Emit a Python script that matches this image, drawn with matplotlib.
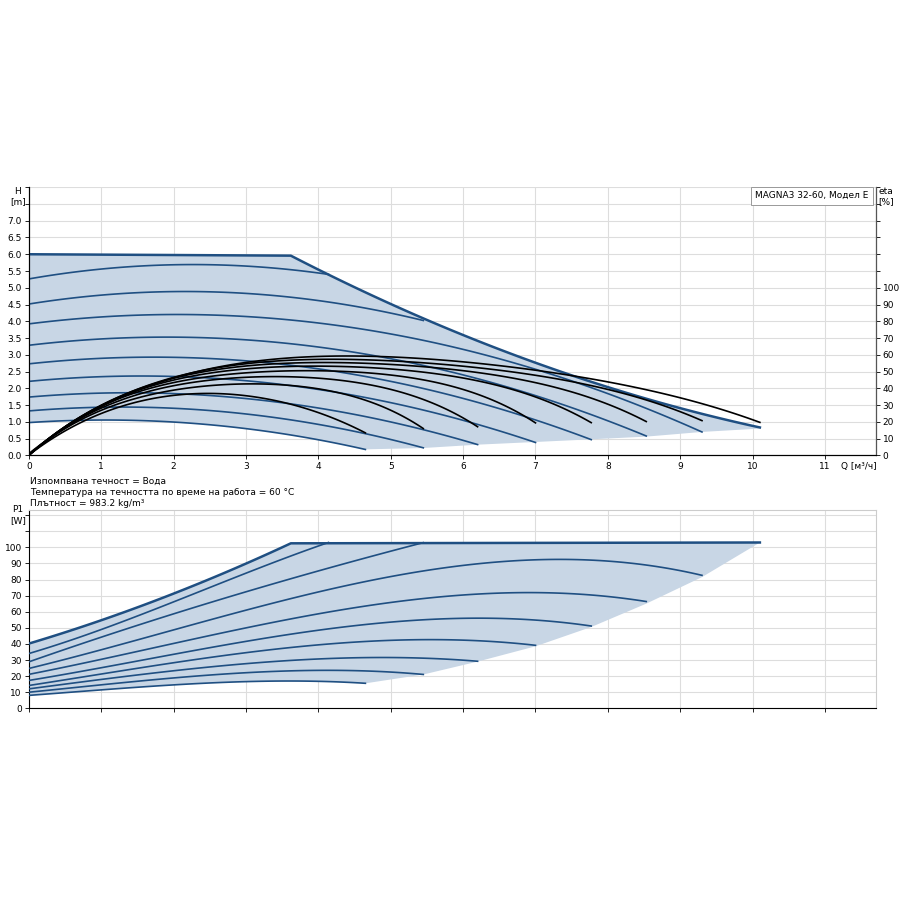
import matplotlib
matplotlib.use("Agg")
import matplotlib.pyplot as plt
import numpy as np

# head curves H [m] vs Q [m3/h], one per speed step (lowest first)
h_curves = [
    ([0, 1, 2, 3, 4, 4.65], [0.98, 1.05, 1.0, 0.8, 0.46, 0.18]),
    ([0, 1, 2, 3, 4, 5, 5.45], [1.33, 1.43, 1.41, 1.23, 0.93, 0.48, 0.22]),
    ([0, 1, 2, 3, 4, 5, 6.2], [1.74, 1.86, 1.84, 1.69, 1.42, 1.0, 0.32]),
    ([0, 1, 2, 3, 4, 5, 6, 7], [2.2, 2.34, 2.39, 2.22, 1.96, 1.57, 1.03, 0.4]),
    ([0, 1, 2, 3, 4, 5, 6, 7, 7.77], [2.73, 2.9, 2.92, 2.82, 2.58, 2.22, 1.7, 1.04, 0.48]),
    ([0, 2, 4, 5, 6, 8, 8.53], [3.29, 3.52, 3.23, 2.88, 2.41, 1.05, 0.56]),
    ([0, 2, 4, 5, 6, 8, 9.3], [3.92, 4.2, 4.0, 3.55, 3.19, 1.84, 0.7]),
    ([0, 1, 2, 3, 4, 5, 5.45], [4.5, 4.8, 4.9, 4.82, 4.6, 4.25, 4.03]),
    ([0, 1, 2, 3, 3.5, 4.14], [5.25, 5.58, 5.7, 5.62, 5.55, 5.42]),
]
hmax_q = [0, 3.62, 4, 5, 6, 7, 8, 9, 10.1]
hmax_h = [6.0, 6.0, 5.55, 4.45, 3.55, 2.75, 2.15, 1.4, 0.8]

# efficiency curves eta [%]
eta_curves = [
    ([0, 0.5, 1, 1.5, 2, 2.5, 3, 3.5, 4, 4.65], [0, 15, 25, 31.6, 35.6, 37, 36, 32, 25, 13.6]),
    ([0, 0.5, 1, 2, 2.85, 3.5, 4, 4.5, 5, 5.45], [0, 16, 27, 38.5, 43, 42, 39.5, 35, 27, 16]),
    ([0, 0.5, 1, 2, 3.2, 4, 4.5, 5, 5.5, 6.2], [0, 16.5, 28.5, 41, 47.5, 46, 43.5, 39, 33, 17]),
    ([0, 0.5, 1, 2, 3.5, 4.5, 5.5, 6, 6.5, 7.0], [0, 17, 29.5, 43, 51, 49.5, 44, 39.5, 32, 19]),
    ([0, 0.5, 1, 2, 3.8, 5, 6, 7, 7.77], [0, 17, 30, 44.5, 53.5, 51.5, 46, 35, 19.5]),
    ([0, 0.5, 1, 2, 4, 5, 6, 7, 8, 8.53], [0, 17, 30.5, 45.5, 55.5, 54.5, 50.5, 43, 31, 20]),
    ([0, 0.5, 1, 2, 4.2, 5.5, 6.5, 7.5, 8.5, 9.3], [0, 17, 30.5, 46, 57, 55.5, 51, 44, 33, 21]),
    ([0, 0.5, 1, 2, 3, 4.45, 5, 6, 7, 8, 9, 10.1], [0, 17, 30.5, 46.5, 54.5, 58.5, 58, 56, 53.5, 44.5, 31, 21]),
]

# power curves P1 [W]
p_curves = [
    ([0, 1, 2, 3, 3.8, 4.65], [8, 11.5, 14.5, 16.5, 17, 15.5]),
    ([0, 1, 2, 3, 4, 4.5, 5.45], [10, 14.5, 19, 22, 23.5, 23.5, 21]),
    ([0, 1, 2, 3, 4, 5, 5.5, 6.2], [12, 18, 23.5, 27.5, 30.5, 31.5, 31.5, 29]),
    ([0, 1, 2, 3, 4, 5, 5.8, 6.5, 7.0], [14, 21.5, 28.5, 34.5, 39, 42, 42.8, 42, 38.5]),
    ([0, 1, 2, 3, 4, 5, 6, 6.8, 7.77], [17, 25.5, 34, 41.5, 48, 53, 56, 56.5, 50.5]),
    ([0, 1, 2, 3, 4, 5, 6, 7, 7.8, 8.53], [20.5, 31, 41, 50, 58, 65, 70, 72.5, 72, 65]),
    ([0, 1, 2, 3, 4, 5, 6, 7, 7.8, 8.6, 9.3], [24.5, 36.5, 49, 61, 72.5, 81.5, 88, 92, 92.5, 90, 81.5]),
    ([0, 1, 2, 3, 4.14], [34, 49, 66, 84, 103]),
    ([0, 1, 2, 3, 4, 5.45], [29, 43.7, 59, 72.6, 85, 103]),
]
pmax_q = [0, 1, 2, 3, 3.62, 10.1]
pmax_p = [40, 55, 71.5, 89, 103, 103]

BLUE = "#1f4f82"
FILL = "#c8d6e5"
GRID = "#dddddd"
FS = 6.5


def smooth(q, v, deg, n=120):
    c = np.polyfit(q, v, deg)
    xs = np.linspace(q[0], q[-1], n)
    return xs, np.polyval(c, xs)


def hmax_line():
    xs2, ys2 = smooth(hmax_q[1:], hmax_h[1:], 2)
    return np.r_[0, xs2], np.r_[6.0, ys2]


def pmax_line():
    xs1, ys1 = smooth(pmax_q[:5], pmax_p[:5], 2)
    return np.r_[xs1, 10.1], np.r_[ys1, 103]


fig = plt.figure(figsize=(9, 9), dpi=100)
ax = fig.add_axes([0.032, 0.494, 0.941, 0.298])
ax2 = ax.twinx()

# fill region
mx, my = hmax_line()
lx, ly = smooth(*h_curves[0], 2)
ends_q = [c[0][-1] for c in h_curves[:7]] + [hmax_q[-1]]
ends_h = [c[1][-1] for c in h_curves[:7]] + [hmax_h[-1]]
poly_x = np.r_[mx, ends_q[::-1], lx[::-1]]
poly_y = np.r_[my, ends_h[::-1], ly[::-1]]
ax.fill(poly_x, poly_y, color=FILL, lw=0, zorder=1)

for q, h in h_curves:
    xs, ys = smooth(q, h, 2)
    ax.plot(xs, ys, color=BLUE, lw=1.2, zorder=3)
ax.plot(mx, my, color=BLUE, lw=1.8, zorder=4)

for q, e in eta_curves:
    xs, ys = smooth(q, e, 4)
    ax2.plot(xs, ys, color="black", lw=1.2)

ax.set_xlim(0, 11.7)
ax.set_ylim(0, 8)
ax2.set_ylim(0, 160)
ax.set_xticks(range(12))
ax.set_yticks(np.arange(0, 8.01, 0.5))
ax.set_yticklabels([f"{v:.1f}" if v <= 7 else "" for v in np.arange(0, 8.01, 0.5)])
ax2.set_yticks(np.arange(0, 160.1, 10))
ax2.set_yticklabels([str(int(v)) if v <= 100 else "" for v in np.arange(0, 160.1, 10)])
ax.grid(True, color=GRID, lw=0.8)
ax.set_axisbelow(True)
for a in (ax, ax2):
    a.tick_params(labelsize=FS, length=3, width=0.6, pad=2)
    a.spines["top"].set_visible(False)
ax2.spines["right"].set_color("#555555")
ax.text(-0.013, 8.0, "H\n[m]", fontsize=FS, ha="center", va="top", transform=ax.get_yaxis_transform())
ax2.text(1.012, 160, "eta\n[%]", fontsize=FS, ha="center", va="top", transform=ax2.get_yaxis_transform())
ax.text(11.22, -0.2, "Q [м³/ч]", fontsize=FS, ha="left", va="top")
ax.text(11.6, 7.88, "MAGNA3 32-60, Модел E", fontsize=FS, ha="right", va="top",
        bbox=dict(boxstyle="square,pad=0.5", fc="white", ec="#999999", lw=0.7), zorder=6)

fig.text(0.033, 0.465, "Изпомпвана течност = Вода", fontsize=FS, va="center")
fig.text(0.033, 0.453, "Температура на течността по време на работа = 60 °C", fontsize=FS, va="center")
fig.text(0.033, 0.441, "Плътност = 983.2 kg/m³", fontsize=FS, va="center")

# power panel
bx = fig.add_axes([0.032, 0.213, 0.941, 0.22])
pmx, pmy = pmax_line()
plx, ply = smooth(*p_curves[0], 3)
pe_q = [c[0][-1] for c in p_curves[:7]] + [10.1]
pe_p = [c[1][-1] for c in p_curves[:7]] + [103]
bx.fill(np.r_[pmx, pe_q[::-1], plx[::-1]], np.r_[pmy, pe_p[::-1], ply[::-1]],
        color=FILL, lw=0, zorder=1)
for q, p in p_curves:
    xs, ys = smooth(q, p, 3 if len(q) > 4 else 2)
    bx.plot(xs, ys, color=BLUE, lw=1.2, zorder=3)
bx.plot(pmx, pmy, color=BLUE, lw=1.8, zorder=4)
bx.set_xlim(0, 11.7)
bx.set_ylim(0, 123)
bx.set_xticks(range(12))
bx.set_xticklabels([])
bx.tick_params(axis="x", length=0)
bx.set_yticks(np.arange(0, 120.1, 10))
bx.set_yticklabels([str(int(v)) if v <= 100 else "" for v in np.arange(0, 120.1, 10)])
bx.tick_params(labelsize=FS, length=3, width=0.6, pad=2)
bx.grid(True, color=GRID, lw=0.8)
bx.set_axisbelow(True)
bx.spines["top"].set_color("#cccccc")
bx.spines["right"].set_color("#cccccc")
bx.text(-0.013, 120, "P1\n[W]", fontsize=FS, ha="center", va="center", transform=bx.get_yaxis_transform())

fig.savefig("out.png", dpi=100)
